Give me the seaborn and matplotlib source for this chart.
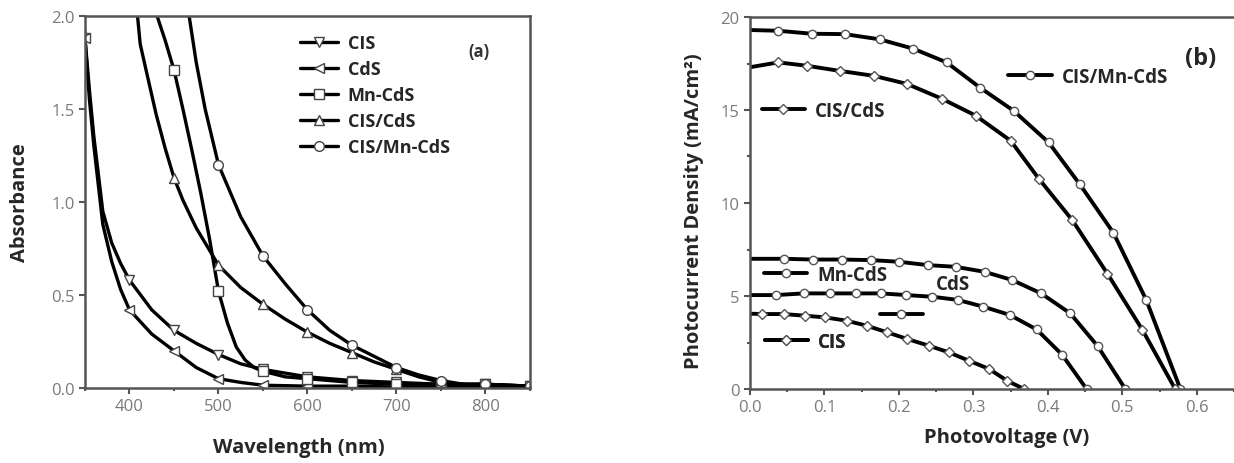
import numpy as np
import matplotlib
matplotlib.use("Agg")
import matplotlib.pyplot as plt
import seaborn as sns
from matplotlib.ticker import MultipleLocator, FormatStrFormatter

# ---- (a) absorbance spectra ----
wl_cis = [345, 350, 355, 360, 370, 380, 390, 400, 425, 450, 475, 500, 525, 550, 600, 650, 700, 750, 800, 850]
abs_cis = [2.2, 1.88, 1.6, 1.35, 0.95, 0.78, 0.67, 0.58, 0.42, 0.31, 0.24, 0.18, 0.13, 0.10, 0.06, 0.04, 0.03, 0.02, 0.02, 0.01]

wl_cds = [345, 350, 355, 360, 370, 380, 390, 400, 425, 450, 475, 500, 525, 550, 600, 650, 700, 750, 800, 850]
abs_cds = [2.2, 1.88, 1.55, 1.3, 0.88, 0.68, 0.53, 0.42, 0.29, 0.20, 0.11, 0.05, 0.03, 0.015, 0.01, 0.01, 0.005, 0.005, 0.005, 0.0]

wl_mncds = [428, 431, 440, 450, 460, 470, 480, 490, 500, 510, 520, 530, 540, 550, 575, 600, 650, 700, 750, 800, 850]
abs_mncds = [2.1, 2.0, 1.87, 1.71, 1.5, 1.28, 1.05, 0.80, 0.52, 0.35, 0.22, 0.15, 0.11, 0.09, 0.06, 0.05, 0.03, 0.02, 0.02, 0.02, 0.01]

wl_ciscds = [405, 409, 412, 420, 430, 440, 450, 460, 475, 500, 525, 550, 575, 600, 625, 650, 675, 700, 725, 750, 775, 800, 850]
abs_ciscds = [2.1, 2.0, 1.85, 1.68, 1.47, 1.29, 1.13, 1.01, 0.86, 0.66, 0.54, 0.45, 0.37, 0.30, 0.24, 0.19, 0.14, 0.10, 0.06, 0.03, 0.02, 0.01, 0.01]

wl_cismn = [463, 467, 475, 485, 500, 525, 550, 575, 600, 625, 650, 675, 700, 725, 750, 775, 800, 850]
abs_cismn = [2.1, 2.0, 1.75, 1.5, 1.20, 0.92, 0.71, 0.56, 0.42, 0.31, 0.23, 0.17, 0.11, 0.07, 0.04, 0.02, 0.02, 0.01]

# ---- (b) J-V curves ----
v_cismn = [0, 0.038, 0.083, 0.127, 0.174, 0.219, 0.264, 0.309, 0.354, 0.401, 0.443, 0.488, 0.532, 0.578]
j_cismn = [19.3, 19.26, 19.1, 19.08, 18.8, 18.3, 17.56, 16.2, 14.96, 13.26, 11.0, 8.4, 4.8, 0]

v_ciscds = [0, 0.038, 0.076, 0.121, 0.166, 0.211, 0.258, 0.303, 0.35, 0.388, 0.433, 0.48, 0.527, 0.571]
j_ciscds = [17.3, 17.56, 17.38, 17.1, 16.84, 16.4, 15.6, 14.7, 13.35, 11.3, 9.07, 6.2, 3.18, 0]

v_mncds = [0, 0.046, 0.085, 0.124, 0.163, 0.2, 0.239, 0.276, 0.315, 0.352, 0.391, 0.43, 0.467, 0.504]
j_mncds = [7.0, 7.0, 6.96, 6.96, 6.93, 6.84, 6.66, 6.57, 6.3, 5.86, 5.14, 4.07, 2.3, 0]

v_cds = [0, 0.035, 0.072, 0.108, 0.142, 0.176, 0.21, 0.245, 0.279, 0.313, 0.349, 0.385, 0.419, 0.452]
j_cds = [5.05, 5.05, 5.14, 5.14, 5.14, 5.14, 5.05, 4.96, 4.79, 4.43, 3.98, 3.2, 1.85, 0]

v_cis = [0, 0.016, 0.045, 0.074, 0.101, 0.13, 0.157, 0.184, 0.211, 0.24, 0.267, 0.294, 0.321, 0.345, 0.368]
j_cis = [4.05, 4.03, 4.03, 3.94, 3.85, 3.67, 3.4, 3.05, 2.69, 2.33, 1.97, 1.52, 1.08, 0.45, 0]

labels = ["CIS", "CdS", "Mn-CdS", "CIS/CdS", "CIS/Mn-CdS"]
markers = ["v", "<", "s", "^", "o"]

sns.set_style("ticks")
plt.rcParams['font.family'] = ['Open Sans', 'DejaVu Sans']

fig = plt.figure(figsize=(12.34, 4.64), dpi=100)
ax_a = fig.add_axes([85 / 1234, 75 / 464, 445 / 1234, 372 / 464])
ax_b = fig.add_axes([750 / 1234, 74 / 464, 484 / 1234, 372 / 464])

spine_col = '#555555'
tick_col = '#7a7a7a'

# panel (a)
series_a = [(wl_cis, abs_cis), (wl_cds, abs_cds), (wl_mncds, abs_mncds),
            (wl_ciscds, abs_ciscds), (wl_cismn, abs_cismn)]
for (wl, ab), lab, mk in zip(series_a, labels, markers):
    every = [i for i, w in enumerate(wl) if w % 50 == 0 and w >= 350]
    sns.lineplot(x=wl, y=ab, ax=ax_a, color='black', lw=2.4, marker=mk,
                 markevery=every, ms=7, mfc='white', mec='#444444', mew=1,
                 label=lab, legend=False)

ax_a.set_xlim(350, 850)
ax_a.set_ylim(0, 2.0)
ax_a.xaxis.set_major_locator(MultipleLocator(100))
ax_a.xaxis.set_minor_locator(MultipleLocator(50))
ax_a.yaxis.set_major_locator(MultipleLocator(0.5))
ax_a.yaxis.set_major_formatter(FormatStrFormatter('%.1f'))
ax_a.set_xticks([400, 500, 600, 700, 800])
ax_a.set_xlabel("Wavelength (nm)", fontsize=14.5, fontweight='bold')
ax_a.set_ylabel("Absorbance", fontsize=14.5, fontweight='bold')
ax_a.xaxis.set_label_coords(0.48, -0.132)
ax_a.yaxis.set_label_coords(-0.124, 0.5)
ax_a.legend(loc='upper left', bbox_to_anchor=(0.483, 0.952), frameon=False,
            prop={'weight': 'bold', 'size': 13}, handlelength=2.1,
            handletextpad=0.55, labelspacing=0.45, borderpad=0, borderaxespad=0)
ax_a.text(0.885, 0.905, "(a)", transform=ax_a.transAxes, fontsize=12,
          fontweight='bold', color='#333333', ha='center', va='center')

# panel (b)
series_b = [(v_cismn, j_cismn, "o"), (v_ciscds, j_ciscds, "D"),
            (v_mncds, j_mncds, "o"), (v_cds, j_cds, "o"), (v_cis, j_cis, "D")]
for v, j, mk in series_b:
    sns.lineplot(x=v, y=j, ax=ax_b, color='black', lw=2.8, marker=mk,
                 markevery=list(range(1, len(v))), ms=6 if mk == "o" else 5,
                 mfc='white', mec='#555555', mew=1, legend=False)

ax_b.set_xlim(0, 0.65)
ax_b.set_ylim(0, 20)
ax_b.xaxis.set_major_locator(MultipleLocator(0.1))
ax_b.xaxis.set_minor_locator(MultipleLocator(0.05))
ax_b.xaxis.set_major_formatter(FormatStrFormatter('%.1f'))
ax_b.yaxis.set_major_locator(MultipleLocator(5))
ax_b.yaxis.set_minor_locator(MultipleLocator(2.5))
ax_b.set_xlabel("Photovoltage (V)", fontsize=14.5, fontweight='bold')
ax_b.set_ylabel("Photocurrent Density (mA/cm²)", fontsize=14.5, fontweight='bold')
ax_b.xaxis.set_label_coords(0.53, -0.102)
ax_b.yaxis.set_label_coords(-0.095, 0.48)
ax_b.spines['right'].set_visible(False)

lines_b = ax_b.get_lines()
tags = [(lines_b[0], "CIS/Mn-CdS", 0.347, 16.8),
        (lines_b[1], "CIS/CdS", 0.016, 14.95),
        (lines_b[2], "Mn-CdS", 0.019, 6.13),
        (lines_b[3], "", 0.174, 3.94),
        (lines_b[4], "CIS", 0.020, 2.53)]
for ln, txt, x, y in tags:
    leg = ax_b.legend([ln], [txt], loc='center left', bbox_to_anchor=(x, y),
                      bbox_transform=ax_b.transData, frameon=False,
                      prop={'weight': 'bold', 'size': 13.5}, handlelength=2.3,
                      handletextpad=0.55, borderpad=0, borderaxespad=0)
    ax_b.add_artist(leg)
ax_b.text(0.25, 5.65, "CdS", fontsize=13.5, fontweight='bold', va='center', ha='left')
ax_b.text(0.605, 17.8, "(b)", fontsize=17, fontweight='bold', va='center', ha='center')

for ax in (ax_a, ax_b):
    for sp in ax.spines.values():
        sp.set_color(spine_col)
        sp.set_linewidth(1.8)
    ax.tick_params(which='major', direction='out', length=4, width=1.5,
                   color=spine_col, labelcolor=tick_col, labelsize=12)
    ax.tick_params(which='minor', direction='out', length=2.5, width=1.5,
                   color=spine_col)

fig.savefig("out.png", dpi=100)
